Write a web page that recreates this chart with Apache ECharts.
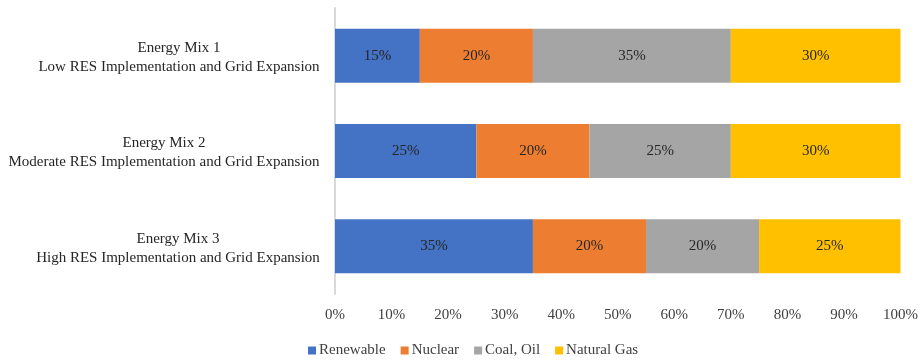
<!DOCTYPE html>
<html>
<head>
<meta charset="utf-8">
<script src="https://cdn.jsdelivr.net/npm/echarts@6/dist/echarts.min.js"></script>
<style>
  html, body { margin: 0; padding: 0; background: #fff; }
  #chart { width: 921px; height: 360px; }
</style>
</head>
<body>
<div id="chart"></div>
<script>
const categories = [
  'Energy Mix 1\nLow RES Implementation and Grid Expansion',
  'Energy Mix 2\nModerate RES Implementation and Grid Expansion',
  'Energy Mix 3\nHigh RES Implementation and Grid Expansion'
]
const seriesNames = ['Renewable', 'Nuclear', 'Coal, Oil', 'Natural Gas']
const renewable = [15, 25, 35]
const nuclear = [20, 20, 20]
const coalOil = [35, 25, 20]
const naturalGas = [30, 30, 25]
const colors = ['#4472C4', '#ED7D31', '#A5A5A5', '#FFC000']

const font = '"Liberation Serif", "Times New Roman", serif'
const values = [renewable, nuclear, coalOil, naturalGas]

// category labels: block right-aligned next to the axis, lines centred inside it
const ctx = document.createElement('canvas').getContext('2d')
ctx.font = '15px ' + font
const rich = {}
categories.forEach((c, i) => {
  const w = Math.max(...c.split('\n').map(l => ctx.measureText(l).width))
  rich['c' + i] = { width: Math.ceil(w), align: 'center', fontFamily: font, fontSize: 15, lineHeight: 19, color: '#262626' }
})

const chart = echarts.init(document.getElementById('chart'))
chart.setOption({
  animation: false,
  textStyle: { fontFamily: font },
  grid: { left: 335, right: 19, top: 8, bottom: 66, containLabel: false },
  legend: {
    top: 338,
    left: 303,
    icon: 'rect',
    itemWidth: 8,
    itemHeight: 8,
    itemGap: 15,
    textStyle: { fontFamily: font, fontSize: 15, color: '#404040', padding: [0, 0, 0, -2] },
    data: seriesNames
  },
  xAxis: {
    type: 'value',
    min: 0,
    max: 100,
    interval: 10,
    axisLine: { show: false },
    axisTick: { show: false },
    splitLine: { show: false },
    axisLabel: { formatter: '{value}%', fontFamily: font, fontSize: 15, color: '#404040', margin: 14 }
  },
  yAxis: {
    type: 'category',
    inverse: true,
    data: categories,
    axisTick: { show: false },
    axisLine: { lineStyle: { color: '#D9D9D9', width: 2 } },
    axisLabel: {
      align: 'right',
      margin: 15,
      padding: [4, 0, 0, 0],
      fontFamily: font,
      fontSize: 15,
      lineHeight: 19,
      color: '#262626',
      formatter: (value, idx) => value.split('\n').map(l => '{c' + idx + '|' + l + '}').join('\n'),
      rich
    }
  },
  series: seriesNames.map((name, i) => ({
    name,
    type: 'bar',
    stack: 'total',
    barWidth: 54,
    data: values[i],
    itemStyle: { color: colors[i] },
    label: {
      show: true,
      position: 'inside',
      formatter: '{c}%',
      fontFamily: font,
      fontSize: 15,
      color: '#262626'
    }
  }))
})
</script>
</body>
</html>
